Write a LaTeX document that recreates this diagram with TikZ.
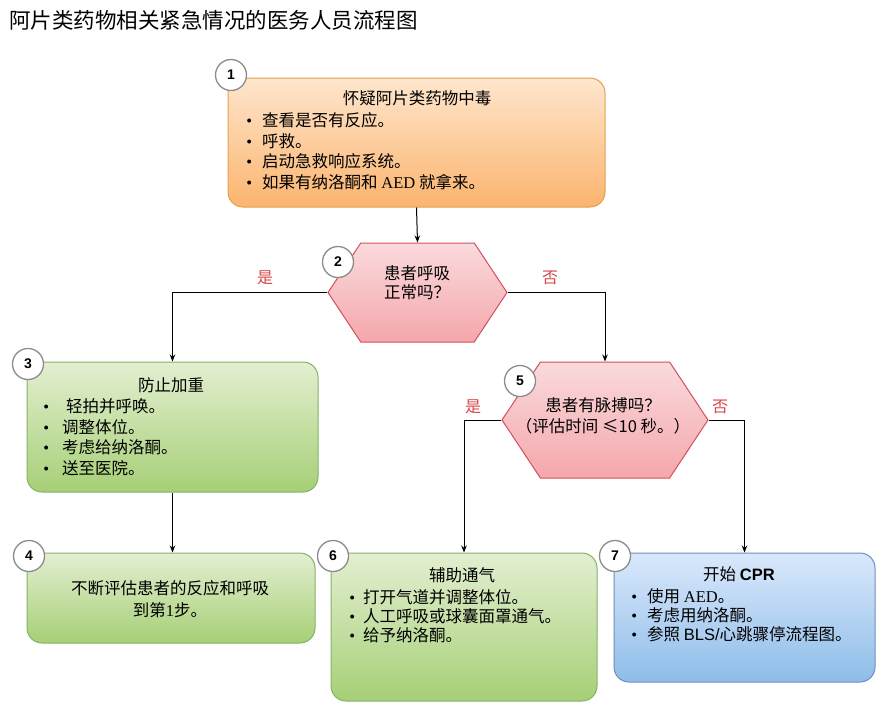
\documentclass[tikz,border=0pt]{standalone}
\usepackage{fontspec}
\setmainfont{Liberation Serif}
\setsansfont{Liberation Sans}
\newfontfamily\cjk{Noto Sans CJK SC}
\usetikzlibrary{shapes.symbols,arrows.meta}
\definecolor{orTop}{HTML}{FEE6CD}
\definecolor{orBot}{HTML}{FBB46E}
\definecolor{orLine}{HTML}{E3A14F}
\definecolor{grTop}{HTML}{E3EFD1}
\definecolor{grBot}{HTML}{A6CF76}
\definecolor{grLine}{HTML}{82B366}
\definecolor{blTop}{HTML}{DAE8FC}
\definecolor{blBot}{HTML}{8EBDE8}
\definecolor{blLine}{HTML}{6C8EBF}
\definecolor{pkTop}{HTML}{FADADC}
\definecolor{pkBot}{HTML}{F4A7AC}
\definecolor{pkLine}{HTML}{D2505C}
\definecolor{lblRed}{HTML}{D94545}
\definecolor{numGray}{HTML}{8C8C8C}
\newcommand\itemdot[1]{\makebox[#1pt]{\rmfamily •}}
\tikzset{
  box/.style={draw, line width=1pt, rounded corners=15pt, inner sep=0pt},
  orbox/.style={box, draw=orLine, top color=orTop, bottom color=orBot},
  grbox/.style={box, draw=grLine, top color=grTop, bottom color=grBot},
  blbox/.style={box, draw=blLine, top color=blTop, bottom color=blBot},
  hexbox/.style={shape=signal, signal to=east and west, signal pointer angle=113,
    draw=pkLine, line width=1pt, top color=pkTop, bottom color=pkBot, inner sep=0pt},
  numc/.style={circle, draw=numGray, fill=white, line width=1.3pt, minimum size=31pt,
    inner sep=0pt, font=\sffamily\bfseries\fontsize{14}{14}\selectfont},
  txt/.style={font=\cjk\fontsize{16.5}{20.5}\selectfont, inner sep=0pt},
  txtb/.style={font=\cjk\fontsize{16.5}{19}\selectfont, inner sep=0pt},
  lbl/.style={font=\cjk\fontsize{16}{16}\selectfont, text=lblRed, inner sep=0pt},
  ttl/.style={font=\cjk\fontsize{21.5}{24}\selectfont, inner sep=0pt},
  conn/.style={line width=1pt, -{Stealth[length=7pt,width=5.5pt]}},
}
\begin{document}
\begin{tikzpicture}[x=1pt,y=-1pt]
\useasboundingbox (0,0) rectangle (883,712);
% title
\node[ttl, anchor=west] (title) at (9,20) {阿片类药物相关紧急情况的医务人员流程图};
% boxes
\node[orbox, minimum width=377pt, minimum height=129pt] (n1) at (416.5,142.5) {};
\node[hexbox, minimum width=179pt, minimum height=99pt] (n2) at (417.5,292.5) {};
\node[grbox, minimum width=291pt, minimum height=130pt] (n3) at (172.5,427) {};
\node[grbox, minimum width=288pt, minimum height=90pt] (n4) at (171,598) {};
\node[hexbox, minimum width=206pt, minimum height=116pt] (n5) at (605,420) {};
\node[grbox, minimum width=266pt, minimum height=148pt] (n6) at (464,627) {};
\node[blbox, minimum width=261pt, minimum height=129pt] (n7) at (744.5,617.5) {};
% connectors
\draw[conn] (n1.south) -- (n2.north);
\draw[conn] (n2.west) -| (n3.north);
\draw[conn] (n2.east) -| (n5.north);
\draw[conn] (n3.south) -- (n3.south |- n4.north);
\draw[conn] (n5.west) -| (n6.north);
\draw[conn] (n5.east) -| (n7.north);
% branch labels
\node[lbl] (y1) at (265,278) {是};
\node[lbl] (no1) at (550,278) {否};
\node[lbl] (y2) at (473,407) {是};
\node[lbl] (no2) at (720,407) {否};
% texts
\node[txt] (n1t) at (417,98) {怀疑阿片类药物中毒};
\node[txt, anchor=west, align=left] (n1l) at (236,151.3) {\itemdot{26}查看是否有反应。\\\itemdot{26}呼救。\\\itemdot{26}启动急救响应系统。\\\itemdot{26}如果有纳洛酮和 {\rmfamily AED} 就拿来。};
\node[txtb, align=left] (n2t) at (417,282.5) {患者呼吸\\正常吗？};
\node[txt] (n3t) at (171,385) {防止加重};
\node[txt, anchor=west, align=left] (n3l) at (30,437.3) {\itemdot{32}\hspace{4pt}轻拍并呼唤。\\\itemdot{32}调整体位。\\\itemdot{32}考虑给纳洛酮。\\\itemdot{32}送至医院。};
\node[txt, align=center, font=\cjk\fontsize{16.5}{21.5}\selectfont] (n4t) at (170,599) {不断评估患者的反应和呼吸\\到第{\rmfamily 1}步。};
\node[txt, align=center] (n5t) at (603,416) {患者有脉搏吗？\\（评估时间 ≤10 秒。）};
\node[txt] (n6t) at (462,575) {辅助通气};
\node[txtb, anchor=west, align=left] (n6l) at (341,615.7) {\itemdot{22}打开气道并调整体位。\\\itemdot{22}人工呼吸或球囊面罩通气。\\\itemdot{22}给予纳洛酮。};
\node[txt] (n7t) at (739,574) {开始 {\sffamily\bfseries CPR}};
\node[txtb, anchor=west, align=left] (n7l) at (621,615.7) {\itemdot{26}使用 {\rmfamily AED}。\\\itemdot{26}考虑用纳洛酮。\\\itemdot{26}参照 {\sffamily BLS/}心跳骤停流程图。};
% number circles
\node[numc] (c1) at (231,75) {1};
\node[numc] (c2) at (338,262) {2};
\node[numc] (c3) at (28,364) {3};
\node[numc] (c4) at (29,556) {4};
\node[numc] (c5) at (520,381) {5};
\node[numc] (c6) at (333,556) {6};
\node[numc] (c7) at (615,556) {7};
\end{tikzpicture}
\end{document}
